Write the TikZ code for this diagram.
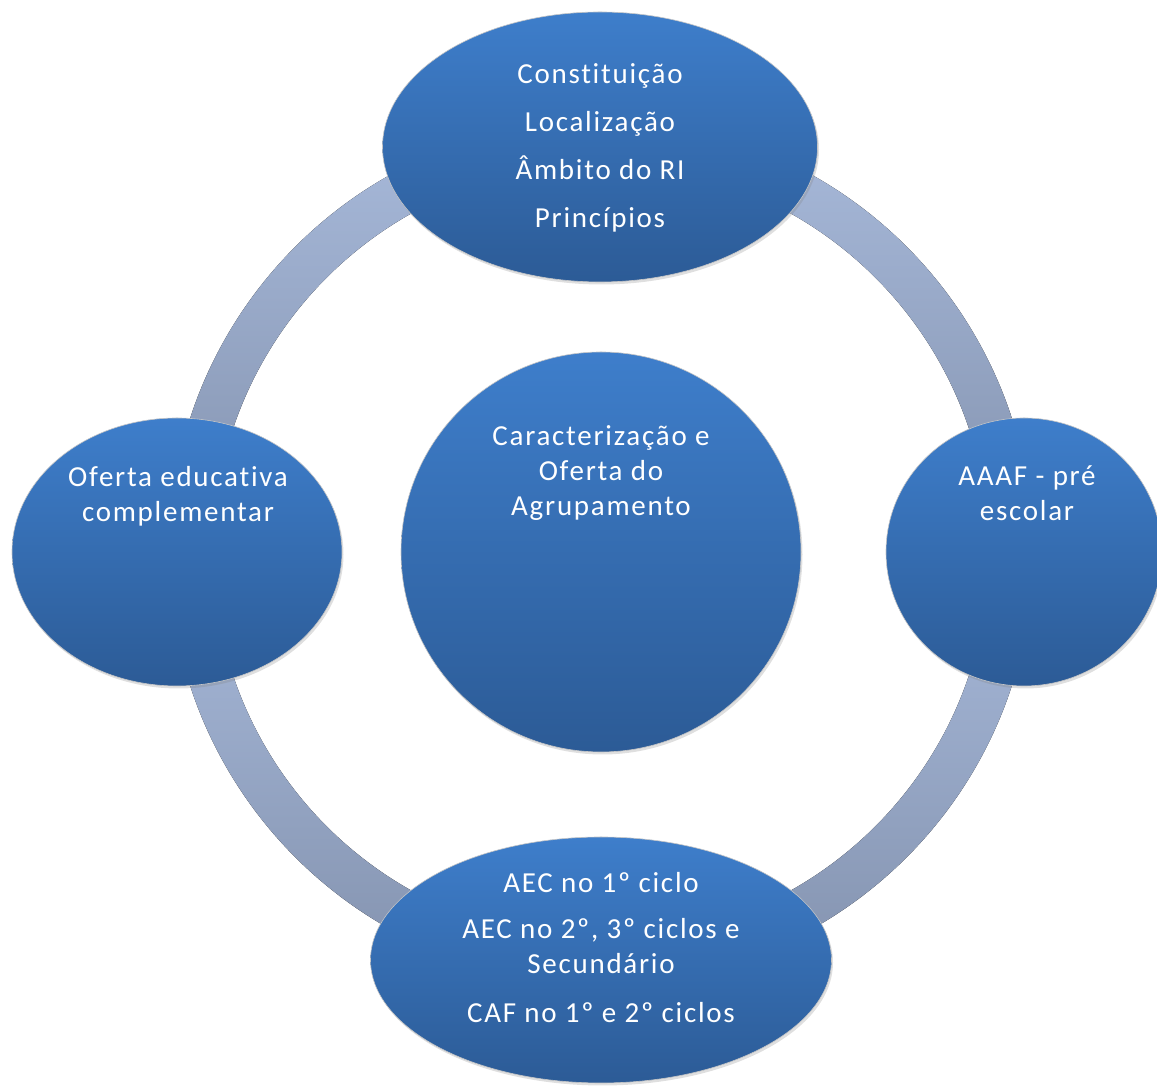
\documentclass[tikz,border=0pt]{standalone}
\usepackage{fontspec}
\setmainfont[Ligatures=NoCommon]{Carlito}
\usepackage{xcolor}
\usepackage{tikz}
\usetikzlibrary{calc,shapes.geometric,shadows}
\definecolor{elltop}{RGB}{62,126,203}
\definecolor{ellbot}{RGB}{44,91,150}
\definecolor{ringtop}{RGB}{168,186,219}
\definecolor{ringbot}{RGB}{131,146,174}

\begin{document}
\begin{tikzpicture}[x=1pt,y=1pt,
  blob/.style={ellipse,inner sep=0pt,top color=elltop,bottom color=ellbot,draw=gray!45,line width=0.6pt,
    drop shadow={opacity=0.25,shadow xshift=1.5pt,shadow yshift=-2.5pt}},
  txt/.style={text=white,align=center,inner sep=0pt,anchor=north,
    font=\fontsize{29}{35}\selectfont\addfontfeatures{LetterSpace=6,Ligatures=NoCommon}}]

\def\CX{601}
\def\CY{534}
\def\RIN{388}
\def\ROUT{432}

\useasboundingbox (0,0) rectangle (1157,1086);

% ring (upper and lower half)
\fill[top color=ringtop,bottom color=ringbot] (\CX-\ROUT,\CY) arc[start angle=180,end angle=0,radius=\ROUT] -- (\CX+\RIN,\CY) arc[start angle=0,end angle=180,radius=\RIN] -- cycle;
\fill[top color=ringtop,bottom color=ringbot] (\CX-\ROUT,\CY) arc[start angle=180,end angle=360,radius=\ROUT] -- (\CX+\RIN,\CY) arc[start angle=0,end angle=-180,radius=\RIN] -- cycle;

% bubbles
\node[blob,circle,minimum size=400] (centro) at (\CX,\CY) {};
\node[blob,minimum width=435,minimum height=270] (topo) at (600,939) {};
\node[blob,minimum width=276,minimum height=268] (aaaf) at (1024,534) {};
\node[blob,minimum width=461,minimum height=246] (aec) at (601,126) {};
\node[blob,minimum width=330,minimum height=268] (oferta) at (177,534) {};

% texts
\node[txt] (centrotxt) at ($(centro.center)+(0,127)$) {Caracterização e\\Oferta do\\Agrupamento};
\node[txt] (topotxt) at ($(topo.center)+(0,84)$) {Constituição\\[13pt]Localização\\[13pt]Âmbito do RI\\[13pt]Princípios};
\node[txt] (aaaftxt) at ($(aaaf.center)+(3,86)$) {AAAF - pré\\escolar};
\node[txt] (aectxt) at ($(aec.center)+(0,88)$) {AEC no 1º ciclo\\[11pt]AEC no 2º, 3º ciclos e\\Secundário\\[14pt]CAF no 1º e 2º ciclos};
\node[txt] (ofertatxt) at ($(oferta.center)+(1,86)$) {Oferta educativa\\complementar};

\end{tikzpicture}
\end{document}
